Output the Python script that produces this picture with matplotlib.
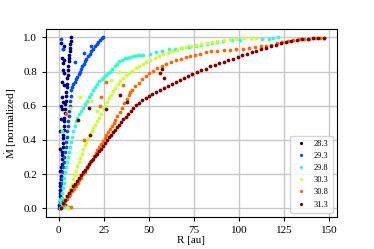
import matplotlib
matplotlib.use("Agg")
import matplotlib.pyplot as plt
import numpy as np

plt.rcParams['font.family'] = ['Liberation Serif', 'DejaVu Serif']
plt.rcParams['mathtext.fontset'] = 'stix'

labels = ['28.3', '29.3', '29.8', '30.3', '30.8', '31.3']

# 28.3
r_283 = [0.3, 0.4, 0.5, 0.6, 0.7, 0.8, 0.9, 1.0, 1.1, 1.2, 1.4, 1.5, 1.6, 1.8, 1.9, 2.0, 2.2, 2.3, 2.5, 2.6,
         2.8, 2.9, 3.1, 3.2, 3.4, 3.5, 3.7, 3.8, 4.0, 4.2, 4.4, 4.5, 4.7, 4.9, 5.1, 5.3, 5.5, 5.7, 5.9, 6.1,
         6.3, 6.5, 6.7, 6.9,
         1.5, 2.4, 1.8, 2.6, 3.0, 2.2, 3.2, 1.9, 2.8, 1.6, 2.1, 1.2, 2.5, 0.9, 1.0, 0.6, 3.5, 2.0, 1.4, 2.7]
m_283 = [0.00, 0.02, 0.04, 0.07, 0.09, 0.11, 0.13, 0.15, 0.17, 0.19, 0.22, 0.24, 0.26, 0.29, 0.31, 0.33, 0.36, 0.38, 0.41, 0.43,
         0.46, 0.48, 0.51, 0.53, 0.56, 0.58, 0.61, 0.63, 0.66, 0.68, 0.71, 0.73, 0.76, 0.78, 0.81, 0.83, 0.86, 0.88, 0.90, 0.92,
         0.94, 0.96, 0.98, 1.00,
         0.97, 0.93, 0.88, 0.85, 0.87, 0.81, 0.79, 0.74, 0.72, 0.65, 0.58, 0.52, 0.62, 0.45, 0.35, 0.22, 0.02, 0.05, 0.60, 0.95]

# 29.3
r_293 = [0.8, 1.0, 1.2, 1.4, 1.6, 1.8, 2.0, 2.3, 2.6, 2.9, 3.2, 3.5, 3.8, 4.1, 4.4, 4.7, 5.0, 5.3, 5.6, 5.9,
         6.2, 6.5, 6.8, 7.1, 7.6, 8.2, 8.9, 9.6, 10.3, 11.0, 11.7, 12.4, 13.1, 13.8, 14.6, 15.4, 16.2, 17.1, 18.0, 19.0,
         20.0, 21.0, 22.0, 23.0, 24.0, 24.5,
         1.5, 2.4, 9.2, 14.0, 18.1, 3.5, 5.0]
m_293 = [0.00, 0.03, 0.06, 0.09, 0.12, 0.15, 0.18, 0.21, 0.24, 0.27, 0.30, 0.33, 0.36, 0.39, 0.42, 0.45, 0.48, 0.51, 0.54, 0.57,
         0.60, 0.63, 0.66, 0.69, 0.71, 0.725, 0.74, 0.755, 0.77, 0.785, 0.80, 0.815, 0.83, 0.845, 0.86, 0.875, 0.89, 0.905, 0.92, 0.935,
         0.95, 0.962, 0.975, 0.987, 0.995, 1.00,
         0.99, 0.93, 0.854, 0.91, 0.95, 0.02, 0.01]

# 29.8
r_298 = [1.0, 1.3, 1.6, 1.9, 2.3, 2.7, 3.2, 3.7, 4.2, 4.7, 5.2, 5.7, 6.3, 6.9, 7.5, 8.1, 8.8, 9.5, 10.3, 11.2,
         12.2, 13.3, 14.4, 15.5, 16.6, 17.7, 18.8, 20.0, 21.3, 22.6, 23.8, 25.0, 26.2, 27.4, 28.6, 29.8, 31.0, 32.2, 33.5, 35.0,
         36.5, 38.0, 39.5, 41.0, 42.5, 44.0, 45.5, 47.0,
         50.5, 54.0, 57.5, 61.0, 64.5, 68.0, 72.0, 76.0, 79.0, 82.0, 85.0, 88.0, 91.0, 96.0, 100.5, 113.0, 116.5, 119.0, 121.5,
         3.0, 5.5, 0.5, 2.0]
m_298 = [0.00, 0.03, 0.06, 0.09, 0.12, 0.15, 0.18, 0.21, 0.24, 0.27, 0.30, 0.33, 0.36, 0.39, 0.42, 0.45, 0.48, 0.51, 0.53, 0.55,
         0.57, 0.59, 0.61, 0.63, 0.65, 0.67, 0.69, 0.71, 0.73, 0.745, 0.755, 0.77, 0.78, 0.79, 0.80, 0.815, 0.83, 0.845, 0.86, 0.87,
         0.877, 0.882, 0.886, 0.889, 0.892, 0.895, 0.897, 0.899,
         0.905, 0.915, 0.922, 0.93, 0.935, 0.94, 0.945, 0.95, 0.955, 0.962, 0.968, 0.975, 0.98, 0.985, 0.987, 0.99, 0.992, 0.996, 1.00,
         0.01, 0.00, 0.05, 0.45]

# 30.3
r_303 = [1.5, 2.3, 3.2, 4.3, 5.3, 6.3, 7.2, 8.0, 8.8, 9.6, 10.4, 11.2, 12.0, 12.8, 13.6, 14.5, 15.4, 16.3, 17.3, 18.3,
         19.3, 20.3, 21.3, 22.3, 23.3, 24.4, 25.5, 26.6, 27.8, 29.0, 30.2, 31.5, 32.8, 34.2, 35.7, 37.3, 39.0, 40.8, 42.7, 44.6,
         46.6, 48.7, 50.9, 53.2, 55.6, 58.0, 60.5, 63.0, 65.6, 68.2, 70.8, 73.5, 76.2, 79.0, 82.0, 85.0, 88.0,
         91.5, 95.0, 98.5, 103.0, 106.5, 109.5,
         29.2, 33.5, 11.6, 18.1, 6.1, 21.0, 6.5, 4.8]
m_303 = [0.00, 0.02, 0.045, 0.07, 0.095, 0.12, 0.145, 0.17, 0.195, 0.22, 0.245, 0.27, 0.295, 0.32, 0.345, 0.37, 0.39, 0.41, 0.43, 0.45,
         0.47, 0.49, 0.51, 0.53, 0.55, 0.58, 0.60, 0.62, 0.645, 0.665, 0.685, 0.705, 0.725, 0.745, 0.762, 0.778, 0.792, 0.806, 0.82, 0.833,
         0.846, 0.858, 0.87, 0.881, 0.892, 0.902, 0.911, 0.92, 0.929, 0.937, 0.945, 0.952, 0.958, 0.964, 0.97, 0.975, 0.98,
         0.984, 0.988, 0.991, 0.994, 0.996, 0.998,
         0.75, 0.80, 0.65, 0.63, 0.59, 0.57, 0.00, 0.01]

# 30.8
r_308 = [1.5, 2.5, 3.5, 4.5, 5.5, 6.5, 7.5, 8.5, 9.5, 10.5, 11.5, 12.5, 13.5, 14.5, 15.5, 16.5, 17.5, 18.5, 19.5, 20.5,
         21.5, 22.5, 23.5, 24.5, 25.5, 26.5, 27.5, 28.5, 29.5, 30.5, 31.5, 32.6, 33.8, 35.0, 36.3, 37.7, 39.2, 40.8, 42.5, 44.3,
         46.2, 48.2, 50.3, 52.5, 54.8, 57.2, 59.7, 62.3, 65.0, 67.7, 70.4, 73.1, 75.8, 78.5,
         81.5, 84.5, 88.0, 91.5, 95.0, 98.5, 102.0, 105.5, 109.0, 112.0, 115.0, 118.0, 121.0, 124.0, 127.0, 130.0, 133.0, 136.0,
         139.0, 142.0, 145.0, 147.0,
         22.7, 23.6, 4.3, 35.6, 39.3, 26.0, 14.0, 7.0]
m_308 = [0.00, 0.02, 0.04, 0.055, 0.07, 0.085, 0.10, 0.115, 0.13, 0.15, 0.165, 0.18, 0.20, 0.215, 0.235, 0.25, 0.27, 0.285, 0.305, 0.325,
         0.34, 0.36, 0.375, 0.395, 0.41, 0.43, 0.445, 0.465, 0.48, 0.50, 0.515, 0.54, 0.565, 0.59, 0.615, 0.64, 0.665, 0.69, 0.713, 0.735,
         0.755, 0.773, 0.79, 0.805, 0.82, 0.833, 0.846, 0.857, 0.867, 0.876, 0.884, 0.891, 0.898, 0.905,
         0.914, 0.918, 0.921, 0.924, 0.927, 0.93, 0.933, 0.937, 0.942, 0.947, 0.952, 0.958, 0.965, 0.972, 0.979, 0.984, 0.988, 0.991,
         0.993, 0.995, 0.997, 0.999,
         0.60, 0.65, 0.55, 0.72, 0.68, 0.74, 0.40, 0.01]

# 31.3
r_313 = [1.5, 2.4, 3.5, 4.6, 5.7, 6.8, 7.9, 9.0, 10.1, 11.2, 12.3, 13.4, 14.5, 15.6, 16.7, 17.8, 18.9, 20.0, 21.1, 22.2,
         23.3, 24.4, 25.5, 26.6, 27.7, 28.8, 29.9, 31.0, 32.2, 33.4, 34.6, 35.8, 37.1, 38.5, 39.9, 41.4, 43.0, 44.7, 46.4, 48.2,
         50.0, 52.0, 54.0, 56.1, 58.2, 60.4, 62.6, 64.8, 67.1, 69.4, 71.8, 74.2, 76.6, 79.0, 81.5, 84.0, 86.5, 89.0, 91.5, 94.0,
         96.6, 99.2, 101.8, 104.4, 107.0, 109.7, 112.4, 115.1, 117.8, 120.5, 123.2, 126.0, 129.0, 132.0, 135.0, 138.0, 141.0, 144.0, 147.0,
         57.2, 58.3, 56.0, 16.8, 10.7, 33.8, 26.4, 17.2, 38.0]
m_313 = [0.00, 0.03, 0.05, 0.07, 0.09, 0.11, 0.13, 0.145, 0.16, 0.18, 0.195, 0.21, 0.225, 0.24, 0.26, 0.275, 0.29, 0.305, 0.32, 0.335,
         0.35, 0.365, 0.38, 0.40, 0.415, 0.43, 0.445, 0.46, 0.475, 0.49, 0.505, 0.52, 0.536, 0.553, 0.57, 0.587, 0.603, 0.618, 0.632, 0.645,
         0.657, 0.67, 0.682, 0.694, 0.705, 0.716, 0.727, 0.738, 0.75, 0.763, 0.776, 0.787, 0.797, 0.807, 0.818, 0.83, 0.84, 0.849, 0.858, 0.867,
         0.876, 0.886, 0.895, 0.904, 0.913, 0.922, 0.931, 0.94, 0.949, 0.958, 0.967, 0.975, 0.982, 0.986, 0.989, 0.991, 0.994, 0.996, 0.999,
         0.815, 0.76, 0.79, 0.59, 0.515, 0.665, 0.58, 0.43, 0.62]

series = [(r_283, m_283), (r_293, m_293), (r_298, m_298), (r_303, m_303), (r_308, m_308), (r_313, m_313)]
colors = plt.cm.jet(np.linspace(0, 1, len(series)))

fig = plt.figure(figsize=(3.74, 2.49), dpi=100)
ax = fig.add_axes([0.123, 0.129, 0.778, 0.755])
ax.set_axisbelow(True)
ax.grid(True, color='#c8c8c8', lw=1.0)

for (r, m), c, lab in zip(series, colors, labels):
    ax.plot(r, m, 'o', ms=2.7, mec='none', color=c, label=lab)

ax.set_xticks([0, 25, 50, 75, 100, 125, 150])
ax.set_yticks([0.0, 0.2, 0.4, 0.6, 0.8, 1.0])
ax.tick_params(labelsize=8, length=3, width=0.8)
ax.set_xlabel('R [au]', fontsize=8, labelpad=1)
ax.set_ylabel(r'$\dot{\mathrm{M}}$ [normalized]', fontsize=8, labelpad=3)

ax.legend(loc='lower right', fontsize=6, markerscale=0.85, labelspacing=0.5,
          handlelength=1.5, handletextpad=0.8, borderpad=0.5)

fig.savefig('out.png', dpi=100)
